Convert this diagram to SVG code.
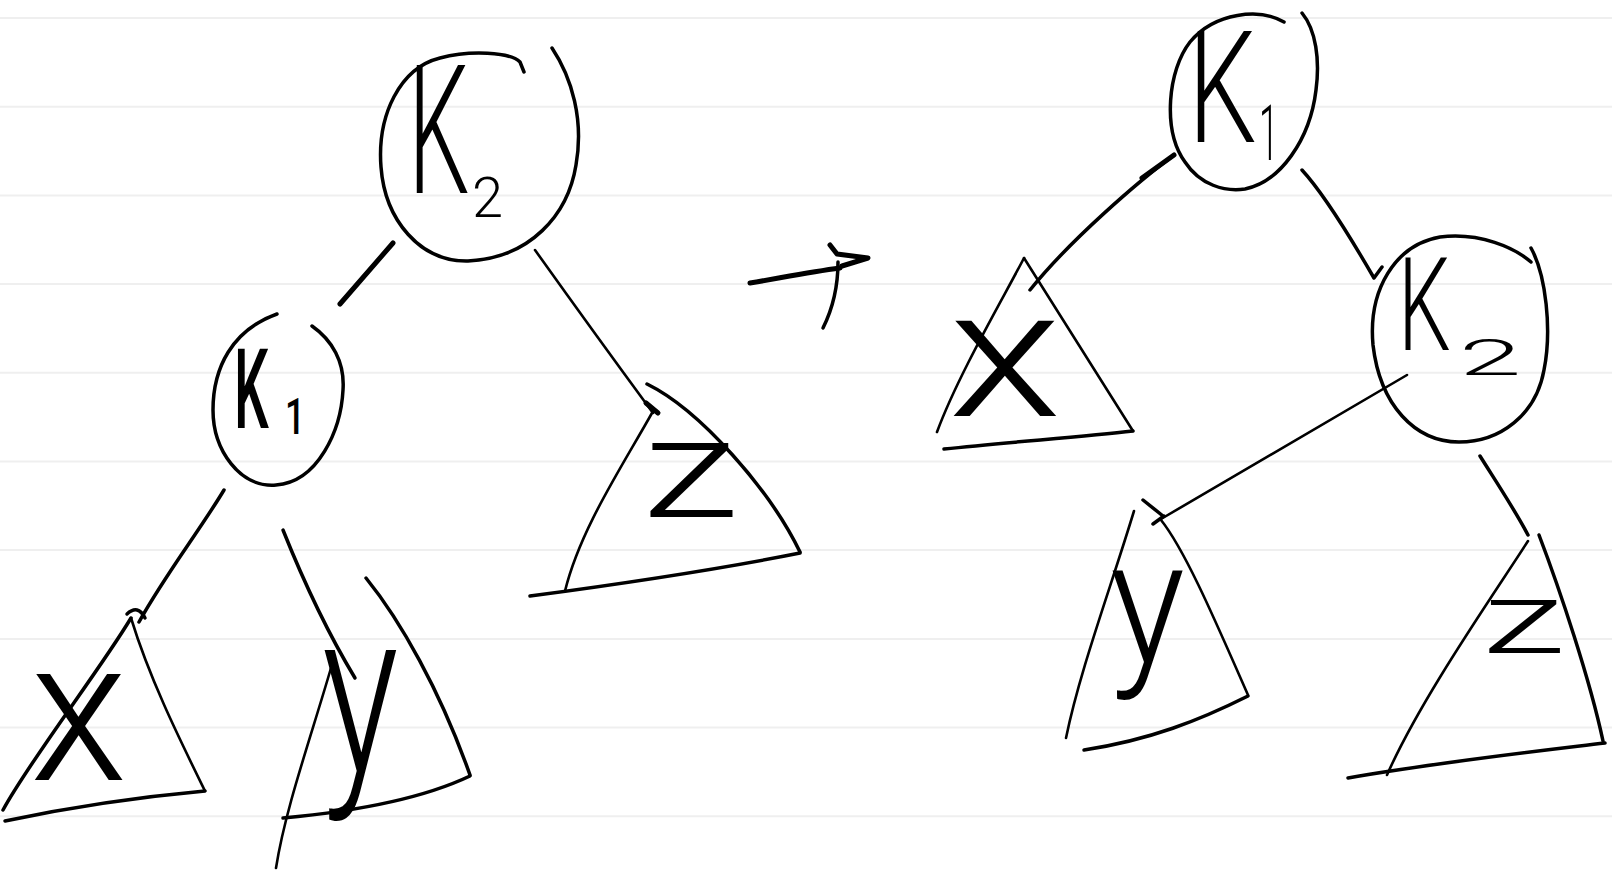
<svg xmlns="http://www.w3.org/2000/svg" width="1612" height="876" viewBox="0 0 1612 876">
<style>
.bg{fill:#ffffff}
.rule{stroke:#efefef;stroke-width:2}
.pen{fill:none;stroke:#000;stroke-width:3.5;stroke-linecap:round;stroke-linejoin:round}
.thin{stroke-width:2.6}
.thick{stroke-width:5}
.lbl{font-family:Roboto,"Open Sans","DejaVu Sans",sans-serif;font-weight:300;fill:#000}
.lbl-b{font-weight:500}
</style>
<rect class="bg" x="0" y="0" width="1612" height="876"/>
<g id="ruled-lines">
<line class="rule" x1="0" y1="18" x2="1612" y2="18"/>
<line class="rule" x1="0" y1="106.7" x2="1612" y2="106.7"/>
<line class="rule" x1="0" y1="195.4" x2="1612" y2="195.4"/>
<line class="rule" x1="0" y1="284" x2="1612" y2="284"/>
<line class="rule" x1="0" y1="372.8" x2="1612" y2="372.8"/>
<line class="rule" x1="0" y1="461.5" x2="1612" y2="461.5"/>
<line class="rule" x1="0" y1="550" x2="1612" y2="550"/>
<line class="rule" x1="0" y1="639" x2="1612" y2="639"/>
<line class="rule" x1="0" y1="727.6" x2="1612" y2="727.6"/>
<line class="rule" x1="0" y1="816.3" x2="1612" y2="816.3"/>
</g>

<g id="connectors">
<path class="pen thick" d="M393,243 L340,304"/>
<path class="pen thin" d="M535,250 Q592,330 653,413"/>
<path class="pen thick" d="M646,403 L658,413"/>
<path class="pen" d="M224,490 C200,530 165,575 139,622"/>
<path class="pen" d="M127,614 Q138,604 145,618"/>
<path class="pen" d="M283,530 C295,560 320,620 355,678"/>
<path class="pen" d="M1174,155 C1140,180 1070,240 1030,290"/>
<path class="pen thick" d="M1174,155 L1142,178"/>
<path class="pen" d="M1302,170 C1325,195 1352,240 1374,278 L1382,267"/>
<path class="pen thin" d="M1407,375 L1161,519"/>
<path class="pen" d="M1143,500 L1163,516 M1153,524 L1164,516"/>
<path class="pen" d="M1480,456 C1495,480 1515,510 1528,535"/>
</g>

<g id="rotation-arrow">
<path class="pen thick" d="M750,283 C780,278 810,272 840,268"/>
<path class="pen thick" d="M830,245 L837,254 L868,258 L842,266"/>
<path class="pen" d="M838,262 C838,290 832,310 823,328"/>
</g>

<g id="left-K2">
<path class="pen" d="M552,48 C572,78 584,120 576,165 C568,215 530,258 468,261 C420,262 385,220 381,167 C377,115 400,68 440,58 C470,50 510,52 520,62 L524,72"/>
<text class="lbl" transform="translate(408,193) scale(0.54,1)" font-size="180">K</text>
<text class="lbl" x="472" y="217" font-size="56">2</text>
</g>

<g id="left-K1">
<path class="pen" d="M312,326 C332,340 345,362 343,390 C341,430 318,482 276,485 C240,488 213,450 213,410 C213,368 232,330 277,314"/>
<text class="lbl lbl-b" transform="translate(234,428) scale(0.49,1)" font-size="112">K</text>
<text class="lbl lbl-b" transform="translate(285,434) scale(0.71,1)" font-size="50">1</text>
</g>

<g id="left-x">
<path class="pen" d="M131,618 C100,670 30,760 3,810"/>
<path class="pen thin" d="M131,618 C150,680 180,740 205,791"/>
<path class="pen" d="M205,791 C150,796 80,805 5,821"/>
<text class="lbl" x="30" y="780" font-size="200">x</text>
</g>

<g id="left-y">
<path class="pen thin" d="M331,668 C310,740 285,810 276,868"/>
<path class="pen" d="M366,578 C400,620 440,690 470,775"/>
<path class="pen" d="M470,776 C430,795 370,810 283,818"/>
<text class="lbl" transform="translate(322,772) scale(0.70,1)" font-size="230">y</text>
</g>

<g id="left-z">
<path class="pen" d="M647,384 C700,410 770,490 800,552"/>
<path class="pen" d="M800,553 C740,565 650,580 530,596"/>
<path class="pen thin" d="M652,413 C620,470 580,530 565,591"/>
<text class="lbl" transform="translate(642,517) scale(1.41,1)" font-size="140">z</text>
</g>

<g id="right-K1">
<path class="pen" d="M1284,22 C1260,8 1215,12 1190,42 C1168,70 1162,130 1185,162 C1200,185 1225,192 1245,189 C1280,182 1310,140 1316,90 C1320,60 1316,30 1302,13"/>
<text class="lbl" transform="translate(1188,142) scale(0.70,1)" font-size="155">K</text>
<text class="lbl" transform="translate(1259,160) scale(0.45,1)" font-size="78">1</text>
</g>

<g id="right-K2">
<path class="pen" d="M1531,248 C1546,275 1552,330 1544,370 C1536,415 1500,442 1459,442 C1415,442 1380,405 1373,345 C1368,290 1395,245 1440,237 C1480,232 1515,248 1531,262"/>
<text class="lbl" transform="translate(1398,350) scale(0.64,1)" font-size="130">K</text>
<text class="lbl" transform="translate(1459,375) scale(2.25,1)" font-size="50">2</text>
</g>

<g id="right-x">
<path class="pen thin" d="M1024,258 C1005,295 958,375 937,432"/>
<path class="pen thin" d="M1024,258 L1133,431"/>
<path class="pen" d="M1133,431 C1080,437 1010,442 944,449"/>
<text class="lbl" transform="translate(948,416) scale(1.3,1)" font-size="180">x</text>
</g>

<g id="right-y">
<path class="pen thin" d="M1134,511 C1110,590 1080,670 1066,738"/>
<path class="pen thin" d="M1161,520 C1185,550 1215,620 1248,695"/>
<path class="pen" d="M1248,696 C1200,720 1150,740 1084,750"/>
<text class="lbl" transform="translate(1110,663) scale(0.9,1)" font-size="175">y</text>
</g>

<g id="right-z">
<path class="pen thin" d="M1528,541 C1490,600 1420,700 1387,775"/>
<path class="pen" d="M1539,535 C1560,590 1590,680 1603,741"/>
<path class="pen" d="M1605,743 C1530,752 1440,762 1348,778"/>
<text class="lbl" transform="translate(1482,653) scale(1.7,1)" font-size="100">z</text>
</g>
</svg>
